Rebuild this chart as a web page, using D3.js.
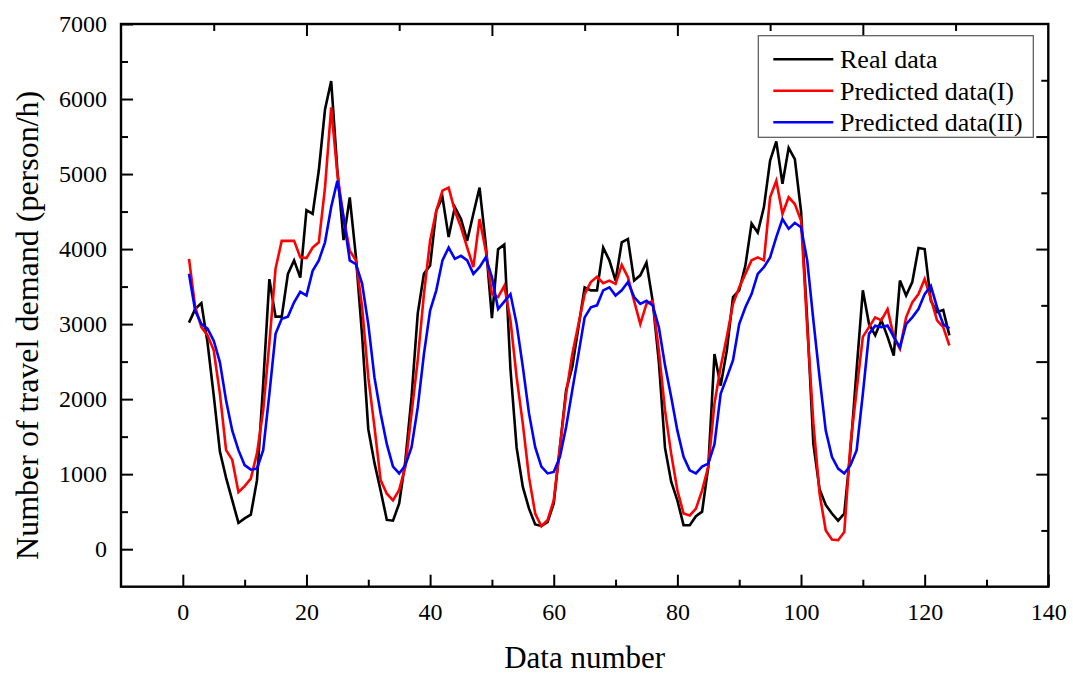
<!DOCTYPE html>
<html>
<head>
<meta charset="utf-8">
<script src="https://cdn.jsdelivr.net/npm/d3@7"></script>
<style>
  html, body { margin: 0; padding: 0; background: #fff; }
  svg { display: block; }
  text { font-family: "Liberation Serif", "Times New Roman", serif; fill: #000; }
</style>
</head>
<body>
<svg id="chart" width="1073" height="675"></svg>
<script>
// Hourly travel demand: observed series and two model predictions
const realData = [
  3020, 3200, 3280, 2750, 2050, 1300, 950, 650, 350, 410,
  460, 920, 2200, 3600, 3100, 3100, 3670, 3850, 3620, 4520,
  4470, 5050, 5860, 6240, 5050, 4120, 4690, 3900, 2850, 1600,
  1150, 780, 390, 380, 610, 1180, 2030, 3140, 3670, 3780,
  4510, 4690, 4160, 4560, 4400, 4110, 4470, 4820, 4070, 3080,
  4000, 4060, 2400, 1350, 830, 540, 330, 310, 360, 610,
  1360, 2120, 2430, 2960, 3490, 3450, 3450, 4020, 3850, 3580,
  4090, 4135, 3580, 3650, 3820, 3310, 2500, 1350, 900, 650,
  320, 320, 440, 500, 1100, 2600, 2180, 2650, 3360, 3450,
  3780, 4340, 4220, 4560, 5180, 5435, 4870, 5350, 5200, 4510,
  3050, 1400, 800, 590, 475, 380, 475, 1320, 2400, 3450,
  3000, 2850, 3050, 2830, 2580, 3580, 3380, 3560, 4015, 4000,
  3310, 3160, 3190, 2850
];

const predictedI = [
  3870, 3230, 2960, 2850, 2650, 2070, 1320, 1190, 760, 840,
  940, 1280, 1850, 2750, 3740, 4110, 4110, 4110, 3890, 3880,
  4020, 4090, 4820, 5890, 5000, 4420, 3980, 3850, 3230, 2290,
  1630, 920, 740, 650, 790, 1100, 1810, 2520, 3400, 4110,
  4510, 4780, 4820, 4510, 4290, 4020, 3760, 4400, 3980, 3400,
  3360, 3510, 3050, 2290, 1670, 960, 475, 306, 386, 650,
  1360, 2070, 2600, 3000, 3400, 3560, 3630, 3545, 3580, 3536,
  3790, 3625, 3310, 3000, 3270, 3310, 2650, 1850, 1270, 785,
  475, 450, 540, 785, 1100, 1940, 2430, 2830, 3270, 3490,
  3670, 3850, 3890, 3850, 4690, 4910, 4470, 4690, 4600, 4380,
  2960, 1680, 740, 250, 130, 120, 230, 1400, 2120, 2830,
  2960, 3090, 3050, 3200, 2830, 2670, 3090, 3290, 3400, 3600,
  3340, 3050, 2960, 2715
];

const predictedII = [
  3670, 3180, 3000, 2940, 2780, 2490, 1980, 1580, 1320, 1120,
  1060, 1075, 1320, 2070, 2870, 3070, 3100, 3290, 3430, 3380,
  3710, 3850, 4090, 4560, 4910, 4420, 3850, 3800, 3540, 3000,
  2290, 1810, 1400, 1100, 1010, 1120, 1360, 1890, 2600, 3180,
  3450, 3850, 4020, 3870, 3910, 3850, 3670, 3760, 3890, 3625,
  3200, 3300, 3400, 3000, 2430, 1810, 1360, 1100, 1010, 1030,
  1230, 1630, 2120, 2600, 3090, 3225, 3250, 3450, 3490, 3380,
  3450, 3560, 3360, 3270, 3310, 3250, 2960, 2450, 2030, 1580,
  1230, 1050, 1010, 1100, 1140, 1400, 2070, 2290, 2520, 3000,
  3225, 3400, 3670, 3760, 3890, 4160, 4400, 4270, 4350, 4290,
  3850, 3050, 2290, 1580, 1230, 1075, 1010, 1120, 1320, 2070,
  2870, 2980, 2960, 2980, 2830, 2690, 3000, 3090, 3200, 3400,
  3510, 3225, 3000, 2940
];

const dataNumber = realData.map((_, i) => i + 1);

const seriesNames = ["Real data", "Predicted data(I)", "Predicted data(II)"];
const seriesColors = ["#000000", "#ff0000", "#0000ff"];

const xMajorTicks = [0, 20, 40, 60, 80, 100, 120, 140];
const xMinorTicks = [10, 30, 50, 70, 90, 110, 130];
const yMajorTicks = [0, 1000, 2000, 3000, 4000, 5000, 6000, 7000];
const yMinorTicks = [500, 1500, 2500, 3500, 4500, 5500, 6500];
const topMajorTicks = [20, 40, 60, 80];
const topMinorTicks = [10, 30, 50, 70, 90];
const rightMajorTicks = [2, 4, 6, 8];
const rightMinorTicks = [1, 3, 5, 7, 9];

// Plot frame
const frame = { left: 121, right: 1048.3, top: 24, bottom: 586.7 };

const svg = d3.select("#chart");

const x = d3.scaleLinear().domain([-10, 140]).range([frame.left, frame.right]);
const y = d3.scaleLinear().domain([-500, 7000]).range([frame.bottom, frame.top]);
// mirrored frame axes
const xTop = d3.scaleLinear().domain([0, 100]).range([frame.left, frame.right]);
const yRight = d3.scaleLinear().domain([0, 10]).range([frame.bottom, frame.top]);

const majorLen = 12, minorLen = 7;

function styleAxis(g) {
  g.select(".domain").remove();
  g.selectAll(".tick line").attr("stroke", "#000").attr("stroke-width", 2);
}

// bottom axis
svg.append("g")
  .attr("transform", `translate(0,${frame.bottom})`)
  .call(d3.axisBottom(x).tickValues(xMajorTicks).tickSize(-majorLen).tickPadding(16).tickFormat(d3.format("d")))
  .call(styleAxis)
  .call(g => g.selectAll("text").attr("font-size", 24).style("font-family", "Liberation Serif"));
svg.append("g")
  .attr("transform", `translate(0,${frame.bottom})`)
  .call(d3.axisBottom(x).tickValues(xMinorTicks).tickSize(-minorLen).tickFormat(""))
  .call(styleAxis);

// left axis
svg.append("g")
  .attr("transform", `translate(${frame.left},0)`)
  .call(d3.axisLeft(y).tickValues(yMajorTicks).tickSize(-majorLen).tickPadding(14).tickFormat(d3.format("d")))
  .call(styleAxis)
  .call(g => g.selectAll("text").attr("font-size", 24).style("font-family", "Liberation Serif"));
svg.append("g")
  .attr("transform", `translate(${frame.left},0)`)
  .call(d3.axisLeft(y).tickValues(yMinorTicks).tickSize(-minorLen).tickFormat(""))
  .call(styleAxis);

// top axis (ticks only)
svg.append("g")
  .attr("transform", `translate(0,${frame.top})`)
  .call(d3.axisTop(xTop).tickValues(topMajorTicks).tickSize(-majorLen).tickFormat(""))
  .call(styleAxis);
svg.append("g")
  .attr("transform", `translate(0,${frame.top})`)
  .call(d3.axisTop(xTop).tickValues(topMinorTicks).tickSize(-minorLen).tickFormat(""))
  .call(styleAxis);

// right axis (ticks only)
svg.append("g")
  .attr("transform", `translate(${frame.right},0)`)
  .call(d3.axisRight(yRight).tickValues(rightMajorTicks).tickSize(-majorLen).tickFormat(""))
  .call(styleAxis);
svg.append("g")
  .attr("transform", `translate(${frame.right},0)`)
  .call(d3.axisRight(yRight).tickValues(rightMinorTicks).tickSize(-minorLen).tickFormat(""))
  .call(styleAxis);

// series lines
const line = d3.line()
  .x((d, i) => x(dataNumber[i]))
  .y(d => y(d));

[realData, predictedI, predictedII].forEach((series, k) => {
  svg.append("path")
    .datum(series)
    .attr("fill", "none")
    .attr("stroke", seriesColors[k])
    .attr("stroke-width", 2.6)
    .attr("stroke-linejoin", "miter")
    .attr("d", line);
});

// frame
svg.append("rect")
  .attr("x", frame.left).attr("y", frame.top)
  .attr("width", frame.right - frame.left).attr("height", frame.bottom - frame.top)
  .attr("fill", "none").attr("stroke", "#000").attr("stroke-width", 2.4);

// axis titles
svg.append("text")
  .attr("x", x(65)).attr("y", 668)
  .attr("text-anchor", "middle")
  .attr("font-size", 31)
  .text("Data number");

svg.append("text")
  .attr("transform", `translate(38,${(frame.top + frame.bottom) / 2 + 20}) rotate(-90)`)
  .attr("text-anchor", "middle")
  .attr("font-size", 32)
  .text("Number of travel demand (person/h)");

// legend
const legend = svg.append("g");
legend.append("rect")
  .attr("x", 758.3).attr("y", 35.7)
  .attr("width", 275).attr("height", 101.6)
  .attr("fill", "#fff").attr("stroke", "#555").attr("stroke-width", 1.2);

seriesNames.forEach((name, k) => {
  const ry = 59.3 + k * 31.5;
  legend.append("line")
    .attr("x1", 773.3).attr("x2", 833.3)
    .attr("y1", ry).attr("y2", ry)
    .attr("stroke", seriesColors[k]).attr("stroke-width", 2.6);
  legend.append("text")
    .attr("x", 840).attr("y", ry + 9)
    .attr("font-size", 26)
    .text(name);
});
</script>
</body>
</html>
